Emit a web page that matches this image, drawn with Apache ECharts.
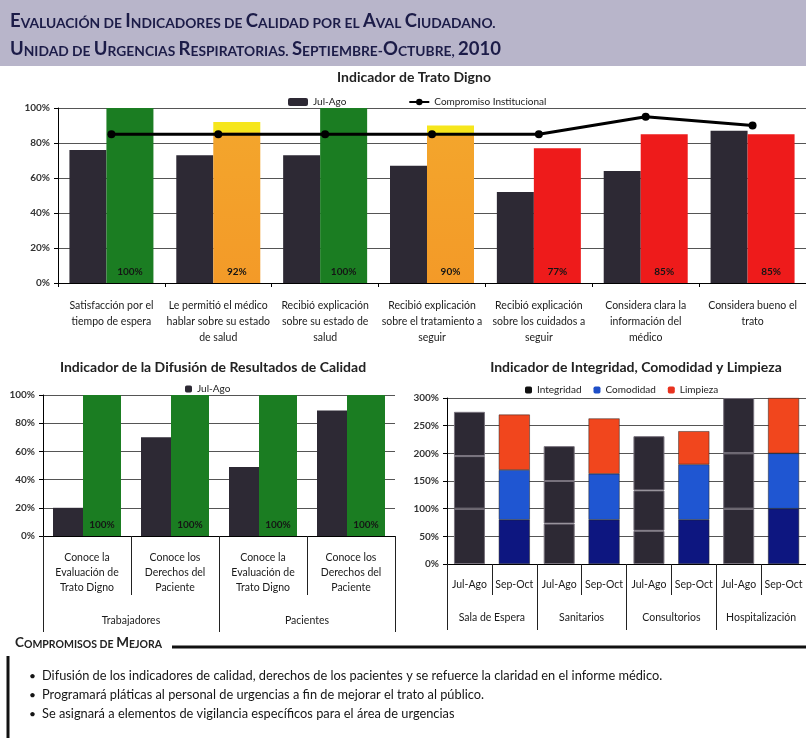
<!DOCTYPE html>
<html>
<head>
<meta charset="utf-8">
<script src="https://cdn.jsdelivr.net/npm/echarts@6/dist/echarts.min.js"></script>
<style>
html, body { margin: 0; padding: 0; background: #fff; }
#main { width: 806px; height: 738px; }
</style>
</head>
<body>
<div id="main"></div>
<script>
// --- Indicador de Trato Digno ---
const tratoCategorias = [
  'Satisfacción por el\ntiempo de espera',
  'Le permitió el médico\nhablar sobre su estado\nde salud',
  'Recibió explicación\nsobre su estado de\nsalud',
  'Recibió explicación\nsobre el tratamiento a\nseguir',
  'Recibió explicación\nsobre los cuidados a\nseguir',
  'Considera clara la\ninformación del\nmédico',
  'Considera bueno el\ntrato'
];
const tratoJulAgo = [76, 73, 73, 67, 52, 64, 87];
const tratoSepOct = [100, 92, 100, 90, 77, 85, 85];
const tratoCompromiso = [85, 85, 85, 85, 85, 95, 90];

// --- Indicador de la Difusión de Resultados de Calidad ---
const difusionCategorias = [
  'Conoce la\nEvaluación de\nTrato Digno',
  'Conoce los\nDerechos del\nPaciente',
  'Conoce la\nEvaluación de\nTrato Digno',
  'Conoce los\nDerechos del\nPaciente'
];
const difusionGrupos = ['Trabajadores', 'Pacientes'];
const difusionJulAgo = [20, 70, 49, 89];
const difusionSepOct = [100, 100, 100, 100];

// --- Indicador de Integridad, Comodidad y Limpieza ---
const icPeriodos = ['Jul-Ago', 'Sep-Oct', 'Jul-Ago', 'Sep-Oct', 'Jul-Ago', 'Sep-Oct', 'Jul-Ago', 'Sep-Oct'];
const icAreas = ['Sala de Espera', 'Sanitarios', 'Consultorios', 'Hospitalización'];
const icIntegridad = [100, 80, 73, 80, 60, 80, 100, 100];
const icComodidad = [95, 90, 77, 83, 73, 100, 100, 100];
const icLimpieza = [80, 100, 63, 100, 98, 60, 100, 100];

const compromisos = [
  'Difusión de los indicadores de calidad, derechos de los pacientes y se refuerce la claridad en el informe médico.',
  'Programará pláticas al personal de urgencias a fin de mejorar el trato al público.',
  'Se asignará a elementos de vigilancia específicos para el área de urgencias'
];

const FONT = 'Lato, "Open Sans", sans-serif';
const DARK = '#2d2934';
const GREEN = '#1b7d22';
const RED = '#ee1b1b';
const ORANGE = {
  type: 'linear', x: 0, y: 0, x2: 0, y2: 1,
  colorStops: [
    { offset: 0, color: '#f6e61c' },
    { offset: 0.06, color: '#f6e61c' },
    { offset: 0.07, color: '#f3a52c' },
    { offset: 1, color: '#f39a28' }
  ]
};
// semáforo: verde si se cumple, naranja cerca, rojo debajo
const semaforo = v => v >= 95 ? GREEN : (v >= 90 ? ORANGE : RED);

// texto en versalitas con rich text
function versalitas(str) {
  let out = '', run = '', big = null;
  for (const ch of str) {
    const isBig = ch !== ch.toLowerCase() || /[0-9]/.test(ch);
    if (big !== null && isBig !== big) {
      out += '{' + (big ? 'b' : 's') + '|' + run + '}';
      run = '';
    }
    big = isBig;
    run += ch.toUpperCase();
  }
  out += '{' + (big ? 'b' : 's') + '|' + run + '}';
  return out;
}

const pctLabel = { formatter: '{value}%', fontSize: 10, fontWeight: 'bold', color: '#333', margin: 8 };
const blackLine = { lineStyle: { color: '#000', width: 1 } };
const gridLine = { lineStyle: { color: '#555', width: 1 } };
const barLabel = {
  show: true, position: 'insideBottom', distance: 6, formatter: '{c}%',
  fontSize: 10, fontWeight: 'bold', color: '#151515'
};

const chart = echarts.init(document.getElementById('main'));

const headerRich = {
  b: { fontFamily: FONT, fontWeight: 'bold', fontSize: 18.5, fill: '#1c1c48', verticalAlign: 'bottom' },
  s: { fontFamily: FONT, fontWeight: 'bold', fontSize: 13.8, fill: '#1c1c48', verticalAlign: 'bottom' }
};
const footRich = {
  b: { fontFamily: FONT, fontWeight: 'bold', fontSize: 13.5, fill: '#222', verticalAlign: 'bottom' },
  s: { fontFamily: FONT, fontWeight: 'bold', fontSize: 10.5, fill: '#222', verticalAlign: 'bottom' }
};
const chartTitle = (text, x, y) => ({
  type: 'text', x: x, y: y,
  style: { text: text, align: 'center', verticalAlign: 'middle', fontFamily: FONT, fontWeight: 'bold', fontSize: 14, fill: '#222' }
});

const option = {
  animation: false,
  textStyle: { fontFamily: FONT },
  graphic: [
    { type: 'rect', shape: { x: 0, y: 0, width: 806, height: 66 }, style: { fill: '#b8b5ca' }, z: -10 },
    { type: 'text', x: 10, y: 31, style: { text: versalitas('Evaluación de Indicadores de Calidad por el Aval Ciudadano.'), rich: headerRich, verticalAlign: 'bottom' } },
    { type: 'text', x: 10, y: 59, style: { text: versalitas('Unidad de Urgencias Respiratorias. Septiembre-Octubre, 2010'), rich: headerRich, verticalAlign: 'bottom' } },
    chartTitle('Indicador de Trato Digno', 414, 77),
    chartTitle('Indicador de la Difusión de Resultados de Calidad', 213, 367),
    chartTitle('Indicador de Integridad, Comodidad y Limpieza', 636, 367),
    { type: 'text', x: 15, y: 650, style: { text: versalitas('Compromisos de Mejora'), rich: footRich, verticalAlign: 'bottom' } },
    { type: 'line', shape: { x1: 172, y1: 647, x2: 806, y2: 647 }, style: { stroke: '#111', lineWidth: 3 } },
    { type: 'line', shape: { x1: 8, y1: 656, x2: 8, y2: 738 }, style: { stroke: '#111', lineWidth: 3 } }
  ].concat(compromisos.map((t, i) => ({
    type: 'text', x: 29, y: 676 + i * 19,
    style: { text: '•', verticalAlign: 'middle', fontFamily: FONT, fontSize: 12, fill: '#151515' }
  }))).concat(compromisos.map((t, i) => ({
    type: 'text', x: 42, y: 676 + i * 19,
    style: { text: t, verticalAlign: 'middle', fontFamily: FONT, fontSize: 12.8, fill: '#151515' }
  }))),
  legend: [
    {
      data: ['Jul-Ago', 'Compromiso Institucional'], left: 283, top: 92,
      itemWidth: 20, itemHeight: 8, itemGap: 62,
      textStyle: { fontSize: 10, color: '#222' }
    },
    {
      data: ['Jul-Ago'], left: 180, top: 379,
      itemWidth: 7, itemHeight: 7, itemGap: 4,
      textStyle: { fontSize: 10, color: '#222' }
    },
    {
      data: ['Integridad', 'Comodidad', 'Limpieza'], left: 520, top: 380,
      itemWidth: 7, itemHeight: 7, itemGap: 12,
      textStyle: { fontSize: 10, color: '#222' }
    }
  ],
  grid: [
    { left: 58, top: 108, width: 754, height: 175 },
    { left: 43, top: 395, width: 352, height: 141 },
    { left: 447, top: 398, width: 359, height: 166 }
  ],
  xAxis: [
    {
      gridIndex: 0, type: 'category', data: tratoCategorias, position: 'bottom',
      axisLine: blackLine, axisTick: { show: true, length: 4, lineStyle: { color: '#000' } },
      axisLabel: { interval: 0, margin: 15, fontSize: 10.5, lineHeight: 16, color: '#1a1a1a' }
    },
    {
      gridIndex: 1, type: 'category', data: difusionCategorias, position: 'bottom',
      axisLine: blackLine, axisTick: { show: true, length: 59, lineStyle: { color: '#222' } },
      axisLabel: { interval: 0, margin: 14, fontSize: 10.5, lineHeight: 15, color: '#1a1a1a' }
    },
    {
      gridIndex: 1, type: 'category', data: difusionGrupos, position: 'bottom',
      axisLine: { show: false }, axisTick: { show: true, length: 96, lineStyle: { color: '#222' } },
      axisLabel: { interval: 0, margin: 79, fontSize: 10.5, color: '#1a1a1a' }
    },
    {
      gridIndex: 2, type: 'category', data: icPeriodos, position: 'bottom',
      axisLine: blackLine, axisTick: { show: true, length: 31, lineStyle: { color: '#222' } },
      axisLabel: { interval: 0, margin: 15, fontSize: 10.5, color: '#1a1a1a' }
    },
    {
      gridIndex: 2, type: 'category', data: icAreas, position: 'bottom',
      axisLine: { show: false }, axisTick: { show: true, length: 66, lineStyle: { color: '#222' } },
      axisLabel: { interval: 0, margin: 48, fontSize: 10.5, color: '#1a1a1a' }
    }
  ],
  yAxis: [
    {
      gridIndex: 0, type: 'value', min: 0, max: 100, interval: 20,
      axisLabel: pctLabel, axisLine: { show: true, lineStyle: { color: '#000' } },
      axisTick: { show: true, length: 4, lineStyle: { color: '#000' } }, splitLine: gridLine
    },
    {
      gridIndex: 1, type: 'value', min: 0, max: 100, interval: 20,
      axisLabel: pctLabel, axisLine: { show: true, lineStyle: { color: '#000' } },
      axisTick: { show: true, length: 4, lineStyle: { color: '#000' } }, splitLine: gridLine
    },
    {
      gridIndex: 2, type: 'value', min: 0, max: 300, interval: 50,
      axisLabel: pctLabel, axisLine: { show: true, lineStyle: { color: '#000' } },
      axisTick: { show: true, length: 4, lineStyle: { color: '#000' } }, splitLine: gridLine
    }
  ],
  series: [
    {
      name: 'Jul-Ago', type: 'bar', xAxisIndex: 0, yAxisIndex: 0,
      data: tratoJulAgo, barWidth: 37, barGap: 0,
      itemStyle: { color: DARK }
    },
    {
      name: 'Sep-Oct', type: 'bar', xAxisIndex: 0, yAxisIndex: 0,
      data: tratoSepOct.map(v => ({ value: v, itemStyle: { color: semaforo(v) } })),
      barWidth: 47, barGap: 0, label: barLabel
    },
    {
      name: 'Compromiso Institucional', type: 'line', xAxisIndex: 0, yAxisIndex: 0,
      data: tratoCompromiso, symbol: 'circle', symbolSize: 8, z: 5,
      lineStyle: { color: '#000', width: 3 }, itemStyle: { color: '#000' }
    },
    {
      name: 'Jul-Ago', type: 'bar', xAxisIndex: 1, yAxisIndex: 1,
      data: difusionJulAgo, barWidth: 30, barGap: 0,
      itemStyle: { color: DARK }
    },
    {
      name: 'Sep-Oct', type: 'bar', xAxisIndex: 1, yAxisIndex: 1,
      data: difusionSepOct.map(v => ({ value: v, itemStyle: { color: semaforo(v) } })),
      barWidth: 38, barGap: 0, label: barLabel
    }
  ].concat([
    ['Integridad', icIntegridad, '#111111', '#0d1680'],
    ['Comodidad', icComodidad, '#1f4fc8', '#1f56d2'],
    ['Limpieza', icLimpieza, '#e8321f', '#f1461d']
  ].map(([name, values, legendColor, sepColor]) => ({
    name: name, type: 'bar', xAxisIndex: 3, yAxisIndex: 2, stack: 'ic',
    barWidth: 31, itemStyle: { color: legendColor },
    data: values.map((v, i) => ({
      value: v,
      itemStyle: icPeriodos[i] === 'Jul-Ago'
        ? { color: DARK, borderColor: '#77717c', borderWidth: 1 }
        : { color: sepColor, borderColor: '#222', borderWidth: 0.5 }
    }))
  })))
};

chart.setOption(option);
</script>
</body>
</html>
